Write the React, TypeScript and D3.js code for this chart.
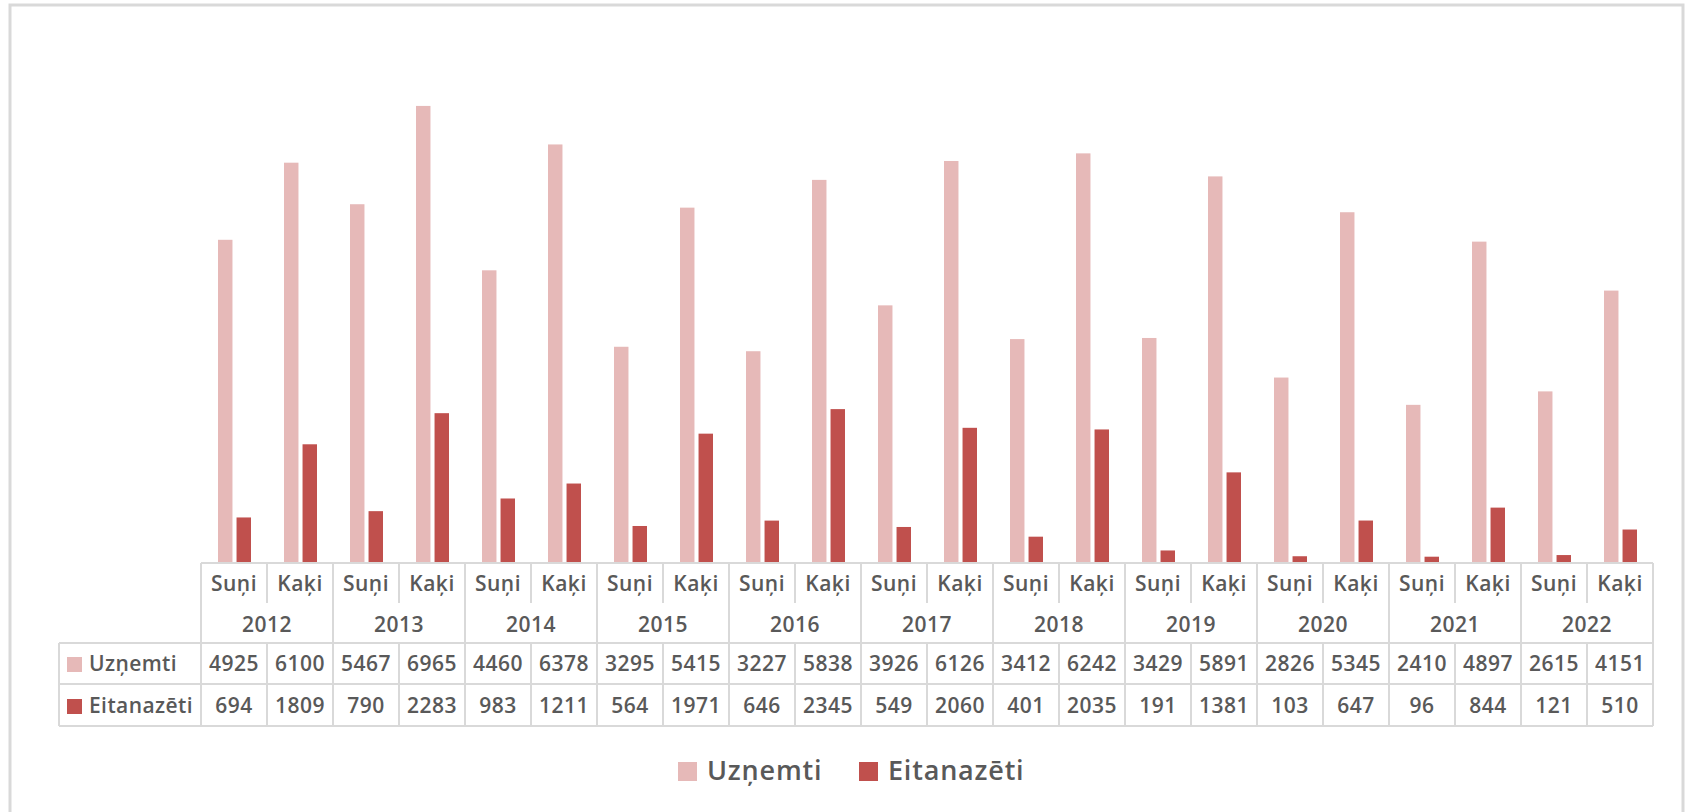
import React, { useEffect, useRef } from 'react';
import * as d3 from 'd3';

// dati no attēla
const years = ['2012', '2013', '2014', '2015', '2016', '2017', '2018', '2019', '2020', '2021', '2022'];
const animals = ['Suņi', 'Kaķi'];
const seriesNames = ['Uzņemti', 'Eitanazēti'];
const uznemti = [4925, 6100, 5467, 6965, 4460, 6378, 3295, 5415, 3227, 5838, 3926, 6126, 3412, 6242, 3429, 5891, 2826, 5345, 2410, 4897, 2615, 4151];
const eitanazeti = [694, 1809, 790, 2283, 983, 1211, 564, 1971, 646, 2345, 549, 2060, 401, 2035, 191, 1381, 103, 647, 96, 844, 121, 510];
const seriesColors = ['#E6B9B8', '#C0504D'];

const FONT = '"Open Sans", "Noto Sans", sans-serif';
const TEXT = '#595959';
const GRID = '#d9d9d9';

const App = () => {
  const svgRef = useRef(null);

  useEffect(() => {
    const width = 1688;
    const height = 812;
    const svg = d3.select(svgRef.current);
    svg.selectAll('*').remove();
    svg.attr('width', width).attr('height', height);

    // ārējais rāmis
    svg.append('rect')
      .attr('x', 10).attr('y', 5)
      .attr('width', 1673).attr('height', 830)
      .attr('fill', '#fff')
      .attr('stroke', GRID)
      .attr('stroke-width', 3);

    const keys = years.flatMap(y => animals.map(a => `${y}|${a}`));
    const values = [uznemti, eitanazeti];

    const tableTop = 563;
    const catBottom = 603;
    const yearBottom = 643;
    const row1Bottom = 684;
    const row2Bottom = 726;
    const headerLeft = 59;

    const x = d3.scaleBand().domain(keys).range([201, 1653]).padding(0);
    const inner = d3.scaleBand().domain(seriesNames).range([17, 50]).paddingInner(0.22);
    const y = d3.scaleLinear().domain([0, 8000]).range([tableTop, 38]);

    // stabiņi
    seriesNames.forEach((s, si) => {
      svg.append('g')
        .selectAll('rect')
        .data(keys)
        .enter()
        .append('rect')
        .attr('x', k => x(k) + inner(s))
        .attr('width', inner.bandwidth())
        .attr('y', (k, i) => y(values[si][i]))
        .attr('height', (k, i) => tableTop - y(values[si][i]))
        .attr('fill', seriesColors[si]);
    });

    // tabulas līnijas
    const lines = svg.append('g')
      .attr('stroke', GRID)
      .attr('stroke-width', 2)
      .attr('fill', 'none');

    const x0 = x.range()[0];
    const x1 = x.range()[1];
    const hLine = (xa, xb, yy) => lines.append('line').attr('x1', xa).attr('x2', xb).attr('y1', yy).attr('y2', yy);
    const vLine = (xx, ya, yb) => lines.append('line').attr('x1', xx).attr('x2', xx).attr('y1', ya).attr('y2', yb);

    hLine(x0, x1, tableTop);
    hLine(headerLeft, x1, yearBottom);
    hLine(headerLeft, x1, row1Bottom);
    hLine(headerLeft, x1, row2Bottom);
    vLine(headerLeft, yearBottom, row2Bottom);

    keys.forEach((k, i) => {
      const xx = x(k);
      if (i % 2 === 0) vLine(xx, tableTop, row2Bottom);
      else {
        vLine(xx, tableTop, catBottom);
        vLine(xx, yearBottom, row2Bottom);
      }
    });
    vLine(x1, tableTop, row2Bottom);

    const txt = svg.append('g')
      .attr('font-family', FONT)
      .attr('font-size', 21)
      .attr('font-weight', 600)
      .attr('letter-spacing', 0.5)
      .attr('fill', TEXT)
      .attr('text-anchor', 'middle');

    // kategorijas
    txt.selectAll('text.cat')
      .data(keys)
      .enter()
      .append('text')
      .attr('class', 'cat')
      .attr('x', k => x(k) + x.bandwidth() / 2)
      .attr('y', 591)
      .text(k => k.split('|')[1]);

    txt.selectAll('text.year')
      .data(years)
      .enter()
      .append('text')
      .attr('class', 'year')
      .attr('x', yr => x(`${yr}|${animals[0]}`) + x.bandwidth())
      .attr('y', 632)
      .text(yr => yr);

    // datu rindas
    const rowBase = [671, 713];
    seriesNames.forEach((s, si) => {
      txt.append('g')
        .selectAll('text')
        .data(keys)
        .enter()
        .append('text')
        .attr('x', k => x(k) + x.bandwidth() / 2)
        .attr('y', rowBase[si])
        .text((k, i) => values[si][i]);

      svg.append('rect')
        .attr('x', 67).attr('y', rowBase[si] - 14)
        .attr('width', 15).attr('height', 15)
        .attr('fill', seriesColors[si]);

      svg.append('text')
        .attr('x', 89).attr('y', rowBase[si])
        .attr('font-family', FONT)
        .attr('font-size', 21)
        .attr('font-weight', 600)
        .attr('letter-spacing', 0.4)
        .attr('fill', TEXT)
        .text(s);
    });

    // leģenda
    const legendX = [678, 859];
    seriesNames.forEach((s, si) => {
      svg.append('rect')
        .attr('x', legendX[si]).attr('y', 762)
        .attr('width', 19).attr('height', 19)
        .attr('fill', seriesColors[si]);
      svg.append('text')
        .attr('x', legendX[si] + 29).attr('y', 780)
        .attr('font-family', FONT)
        .attr('font-size', 27)
        .attr('font-weight', 600)
        .attr('letter-spacing', 0.8)
        .attr('fill', TEXT)
        .text(s);
    });
  }, []);

  return (
    <svg ref={svgRef} style={{ position: 'absolute', left: 0, top: 0, display: 'block', background: '#fff' }}></svg>
  );
};

export default App;
